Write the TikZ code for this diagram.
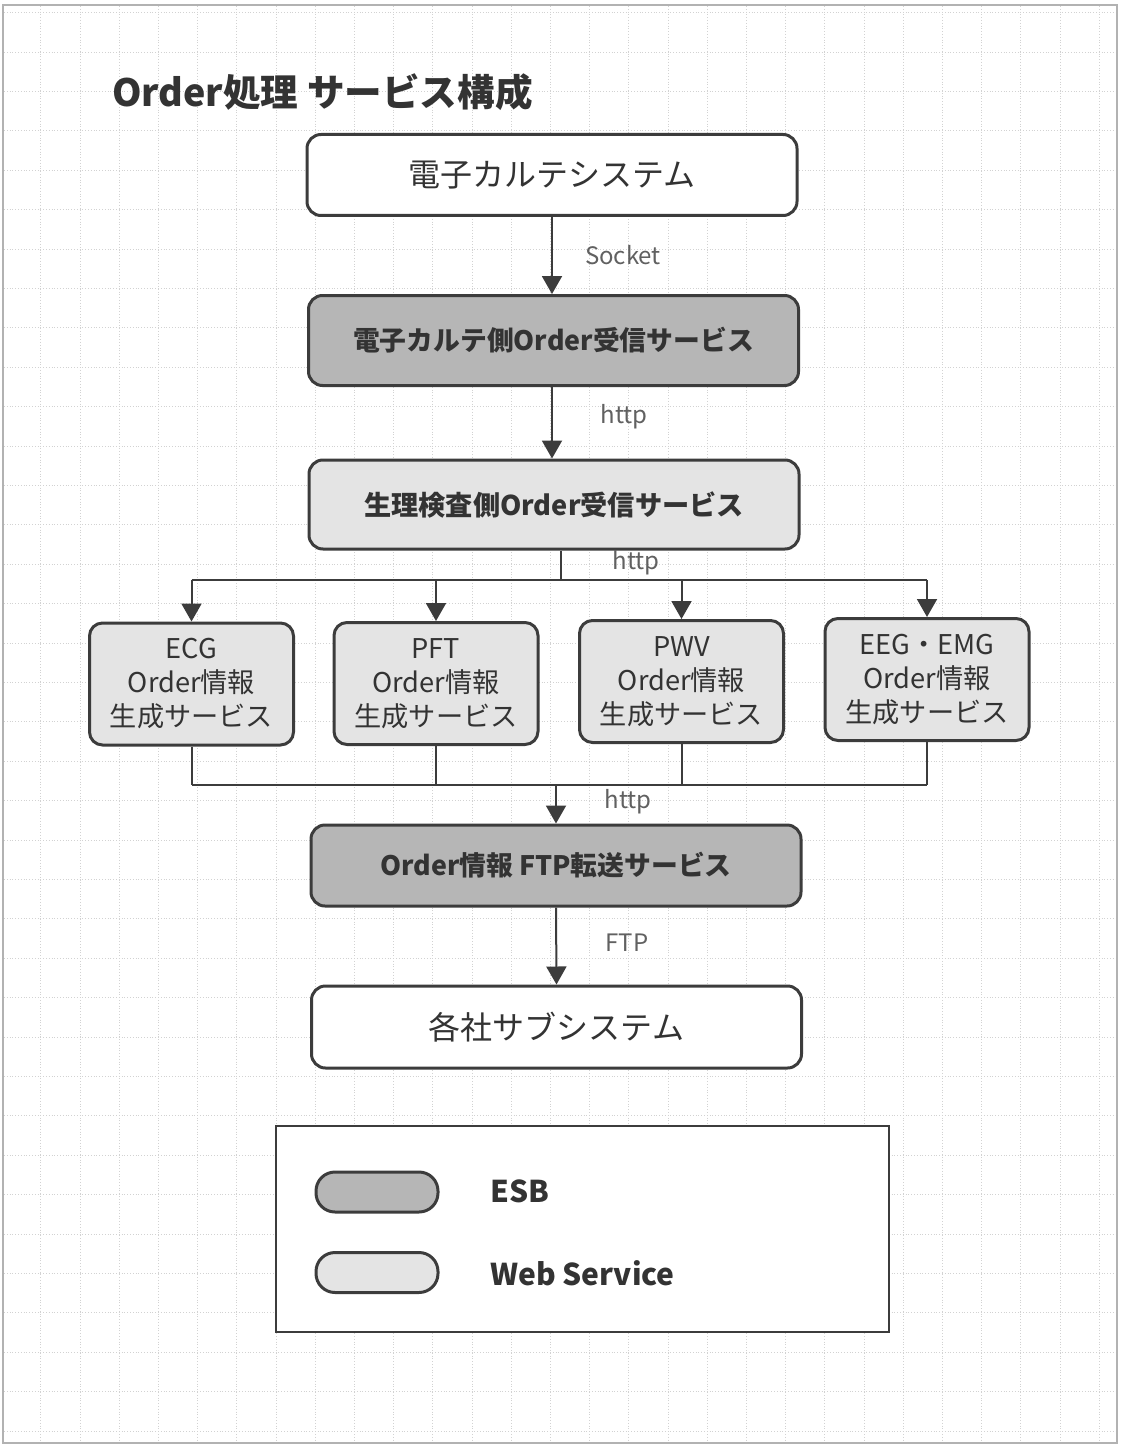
\documentclass[tikz,border=0pt]{standalone}
\usepackage{fontspec}
\setmainfont{Noto Sans CJK JP}
\usetikzlibrary{arrows.meta}
\definecolor{esb}{HTML}{B6B6B6}
\definecolor{web}{HTML}{E4E4E4}
\definecolor{edge}{HTML}{3C3C3C}
\definecolor{ink}{HTML}{333333}
\newcommand{\myfs}[2]{\fontsize{#1pt}{#2pt}\selectfont}
\begin{document}
\begin{tikzpicture}[x=1pt,y=-1pt,
  box/.style={draw=edge,line width=3pt,rounded corners=14pt,align=center,text=ink,inner sep=0pt},
  sysbox/.style={box,fill=white,font=\myfs{32}{38},minimum width=490pt,minimum height=81pt},
  esbbox/.style={box,fill=esb,font=\bfseries\myfs{26.8}{30},minimum width=490pt},
  webbox/.style={box,fill=web,font=\bfseries\myfs{27.2}{30},minimum width=490pt},
  smallbox/.style={box,fill=web,font=\myfs{27.2}{34},minimum width=204pt,minimum height=122pt,rounded corners=13pt},
  swatch/.style={draw=edge,line width=3pt,rounded corners=19pt,minimum width=122pt,minimum height=40pt,inner sep=0pt},
  conn/.style={draw=edge,line width=2pt},
  arr/.style={conn,-{Triangle[width=20pt,length=18pt]}},
  elabel/.style={font=\myfs{24}{28},text=black!62,inner sep=0pt},
  legtext/.style={font=\bfseries\myfs{30}{34},text=ink,anchor=west,inner sep=0pt},
  gridline/.style={gray!35,dotted,line width=0.8pt}]
\useasboundingbox (0,0) rectangle (1120,1447);
\fill[white] (0,0) rectangle (1120,1447);
% background grid
\foreach \i in {1,...,28} \draw[gridline] ({1.5+39.2*\i},6) -- ({1.5+39.2*\i},1442);
\foreach \j in {0,...,36} \draw[gridline] (4,{12.6+39.4*\j}) -- (1116,{12.6+39.4*\j});
% outer frame
\draw[gray!60,line width=2pt] (3,5) rectangle (1117,1443);
% title
\node[anchor=west,font=\bfseries\myfs{37.6}{40},text=ink,inner sep=0pt] (title) at (112,92) {Order処理 サービス構成};
% main boxes
\node[sysbox] (emr) at (552,175) {電子カルテシステム};
\node[esbbox,minimum height=90pt] (emrrecv) at (553.5,340.5) {電子カルテ側Order受信サービス};
\node[webbox,minimum height=89pt] (labrecv) at (554,504.5) {生理検査側Order受信サービス};
\node[smallbox] (ecg) at (191.5,684) {ECG\\Order情報\\生成サービス};
\node[smallbox] (pft) at (436,683.5) {PFT\\Order情報\\生成サービス};
\node[smallbox] (pwv) at (681.5,681.5) {PWV\\Order情報\\生成サービス};
\node[smallbox] (eeg) at (927,679.5) {EEG・EMG\\Order情報\\生成サービス};
\node[esbbox,minimum height=81pt] (ftp) at (556,865.5) {Order情報 FTP転送サービス};
\node[sysbox,minimum height=82pt] (sub) at (556.5,1027) {各社サブシステム};
% connectors
\draw[arr] (emr.south) -- (emr.south |- emrrecv.north);
\node[elabel] (l1) at (623,255) {Socket};
\draw[arr] (emrrecv.south -| emr.south) -- (emr.south |- labrecv.north);
\node[elabel] (l2) at (624,417) {http};
\coordinate (bus1) at (561,580);
\draw[conn] (labrecv.south -| bus1) -- (bus1);
\draw[conn] (ecg.north |- bus1) -- (eeg.north |- bus1);
\node[elabel] (l3) at (636,563) {http};
\foreach \n in {ecg,pft,pwv,eeg} \draw[arr] (\n.north |- bus1) -- (\n.north);
\coordinate (bus2) at (556,785);
\foreach \n in {ecg,pft,pwv,eeg} \draw[conn] (\n.south) -- (\n.south |- bus2);
\draw[conn] (ecg.south |- bus2) -- (eeg.south |- bus2);
\draw[arr] (bus2) -- (ftp.north);
\node[elabel] (l4) at (628,802) {http};
\draw[arr] (ftp.south) -- (sub.north);
\node[elabel] (l5) at (627,943) {FTP};
% legend
\node[draw=edge,line width=2.5pt,fill=white,minimum width=613pt,minimum height=206pt,inner sep=0pt] (legend) at (582.5,1229) {};
\node[swatch,fill=esb] (sw1) at (377,1192) {};
\node[swatch,fill=web] (sw2) at (377,1272.5) {};
\node[legtext] (t1) at (490,1191) {ESB};
\node[legtext] (t2) at (490,1273) {Web Service};
\end{tikzpicture}
\end{document}
